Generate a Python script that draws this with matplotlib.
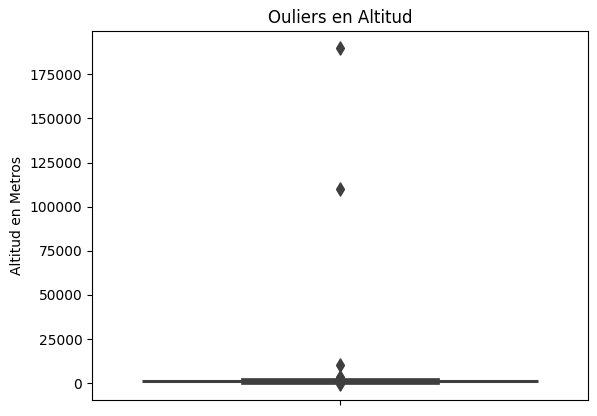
import numpy as np
import matplotlib.pyplot as plt

# letter-value box (low, high), altitude in metres
box_low = [-200]
box_high = [2900]
box_widths = [0.4]
median = 1250

# outliers
outliers = [190000, 110000, 10400, 3500, 3000, 2500, 2000, 1500, 1000, 500, 0, -300]

gray = '#3f3f3f'

fig = plt.figure(figsize=(5.97, 4.16), dpi=100)
ax = fig.add_axes([92 / 597, 16 / 416, 496 / 597, 369 / 416])

for lo, hi, w in zip(box_low, box_high, box_widths):
    ax.bar(0, hi - lo, bottom=lo, width=w, color=gray, edgecolor=gray, linewidth=0.5, zorder=2)

ax.plot([-0.4, 0.4], [median, median], color=gray, linewidth=2.2, solid_capstyle='butt', zorder=3)
ax.scatter(np.zeros(len(outliers)), outliers, marker='d', s=45, color=gray, zorder=4)

ax.set_xlim(-0.5, 0.5)
ax.set_ylim(-9500, 199500)
ax.set_xticks([0])
ax.set_xticklabels([''])
ax.set_yticks(np.arange(0, 175001, 25000))
ax.set_title('Ouliers en Altitud')
ax.set_ylabel('Altitud en Metros')

fig.savefig('out.png', dpi=100)
